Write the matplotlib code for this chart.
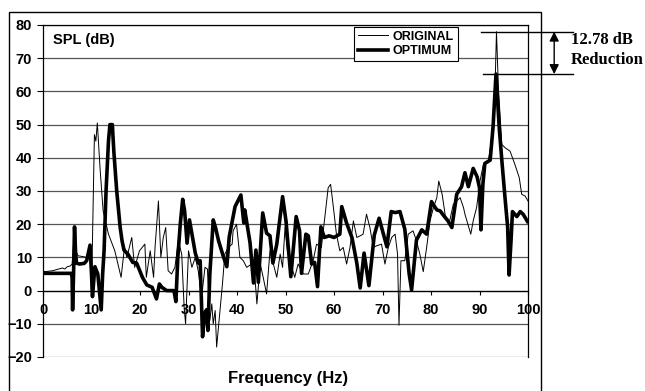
import numpy as np
import matplotlib
matplotlib.use('Agg')
import matplotlib.pyplot as plt
from matplotlib.patches import Rectangle

plt.rcParams['font.family'] = ['Liberation Sans', 'DejaVu Sans']

# ---------- data ----------
freq_orig = [0, 1, 2, 3, 4, 4.5, 5, 5.6, 6.0, 6.3, 6.7, 7.2, 8, 9, 9.7, 10.0, 10.6, 10.9, 11.2,
             11.8, 12.2, 12.4, 13.5, 14.8, 16.1, 16.8, 17.3, 18.3, 18.9, 19.9, 21.0, 21.3, 22.1,
             22.8, 23.1, 23.8, 24.3, 24.8, 25.3, 25.8, 26.5, 27.2, 27.9, 28.6, 29.1, 29.4, 30.0,
             30.7, 31.4, 32.0, 32.7, 33.4, 33.9, 34.4, 34.8, 35.1, 35.5, 35.8, 36.5, 37.0, 37.5,
             38.2, 39.0, 39.2, 39.9, 40.6, 41.3, 42.0, 43.0, 43.4, 43.7, 44.1, 44.8, 45.4, 46.1,
             46.8, 47.5, 48.2, 48.9, 49.4, 49.9, 50.4, 51.3, 51.9, 52.6, 53.7, 54.7, 55.7, 56.4,
             57.4, 58.1, 58.8, 59.3, 59.8, 60.5, 61.2, 61.9, 62.6, 63.3, 64.0, 64.7, 65.4, 66.0,
             66.7, 67.4, 68.1, 68.8, 69.8, 70.5, 71.2, 71.9, 72.6, 73.1, 73.4, 73.8, 74.6, 75.3,
             76.3, 77.0, 77.7, 78.4, 79.1, 79.8, 80.5, 81.2, 81.6, 82.3, 83.0, 83.7, 84.6, 85.3,
             86.0, 86.7, 87.0, 88.2, 88.7, 89.4, 90.1, 90.8, 91.8, 92.7, 93.2, 93.5, 93.9, 94.6,
             95.3, 96.3, 97.3, 98.2, 98.7, 99.4, 100]
spl_orig = [5.7, 5.8, 6.0, 6.4, 6.8, 6.5, 7.2, 7.4, 8, 14, 12, 10.5, 10.3, 10, 10.5, -1, 47, 45, 50.5,
            36, 28, 24, 17, 12, 4, 13, 10, 16, 7, 12, 14, 4, 12,
            4, 13, 27, 10, 16, 19, 6, 5, 7, 15, 11, -5, -10, 12,
            7, 10, 6, -2, 7, 6.5, -9, -4, -10, -6, -17, -6, 2, 11,
            13, 14, 18, 20, 10, 9, 7, 8, 7, 4, -4, 8, 4, -1,
            12, 8, 4, 11, 7, 19, 12, 7, 4, 8, 5, 5, 9, 14,
            13, 22, 31, 32, 26, 17, 12, 13, 8, 13, 21, 16, 16.5, 17,
            23, 19, 13, 13.5, 14, 8, 13, 16, 17, 11, -10.4, 9, 9, 17,
            18, 15, 11, 5.7, 13, 21, 25, 28, 33, 29, 22, 20, 26, 27,
            28, 25, 23, 17, 21, 25, 33, 38, 39, 47, 61, 78.0, 61, 44,
            43, 42, 38, 34, 29, 28.5, 27]

freq_opt = [0, 5.8, 6.0, 6.1, 6.3, 6.5, 6.7, 6.9, 7.5, 8.5, 9.0, 9.7, 10.0, 10.2, 10.7, 11.3, 12.0,
            12.3, 12.6, 13.0, 13.5, 13.8, 14.3, 14.6, 15.2, 15.9, 16.3, 16.7, 17.5, 18.5, 19.3,
            20.5, 21.4, 22.5, 23.4, 24.0, 24.5, 25.5, 26.5, 27.0, 27.4, 27.8, 28.3, 28.8, 29.2,
            29.7, 30.2, 30.6, 31.4, 32.0, 32.4, 32.9, 33.3, 33.7, 34.0, 34.4, 35.1, 35.6, 36.2,
            37.2, 37.9, 38.4, 39.6, 40.8, 41.4, 41.6, 42.7, 43.4, 43.9, 44.4, 45.3, 46.1, 46.8,
            47.4, 48.2, 49.4, 50.1, 51.1, 52.2, 52.9, 53.3, 54.2, 54.7, 55.4, 56.0, 56.6, 57.3,
            58.0, 59.0, 60.0, 61.2, 61.6, 62.6, 63.7, 64.7, 65.4, 66.2, 67.2, 68.3, 69.3, 70.0,
            70.9, 71.8, 72.6, 73.6, 74.6, 75.5, 76.0, 77.0, 78.1, 79.1, 80.1, 81.2, 81.9, 82.5,
            83.5, 84.3, 85.3, 86.3, 87.0, 87.7, 88.7, 89.5, 90.0, 90.3, 90.7, 91.1, 92.2, 92.8,
            93.4, 94.1, 94.6, 95.3, 95.8, 96.1, 96.5, 96.8, 97.7, 98.4, 99.0, 99.9]
spl_opt = [5.2, 5.2, 4, -5.8, 5, 19.2, 12, 8.3, 8, 8.2, 9, 13.7, 5, -1.8, 7.2, 5, -5.8,
           5, 12.2, 30, 45, 50, 50, 42, 30, 19.2, 15, 12.2, 11, 8.5, 8.3,
           4, 1.7, 1, -2.5, 2, 1, 0, 0, 0, -3.3, 10, 20, 27.5, 24,
           14.3, 21.3, 18, 11.3, 8.3, 9, -13.9, -7, -5.8, -12, 5, 21.3, 18.8, 15,
           10.2, 7.2, 16.2, 25.3, 28.8, 20.4, 24.3, 14.3, 2.3, 12.2, 2.5, 23.4, 17.3, 16.5,
           8.3, 14, 28.3, 21, 4.2, 22.3, 18, 5.2, 17, 16.5, 8, 8.5, 1.2, 19.2,
           16, 16.5, 16, 17, 25.3, 20.3, 16, 8.3, 0.8, 11.3, 1.5, 16.7, 21.8, 18,
           13.2, 23.8, 23.5, 23.8, 18.5, 5, 0.2, 15.2, 18.3, 17, 26.8, 24.3, 24, 22.8,
           21, 19, 29, 31.3, 35.5, 31.3, 36.8, 34.3, 31, 18.3, 32, 38.3, 39.3, 49.4,
           65.22, 48.4, 39.3, 27.3, 19.2, 4.7, 15, 23.8, 22.3, 23.8, 23, 20.8]

y_ticks = [-20, -10, 0, 10, 20, 30, 40, 50, 60, 70, 80]
x_ticks = [0, 10, 20, 30, 40, 50, 60, 70, 80, 90, 100]

fig = plt.figure(figsize=(6.45, 3.91), dpi=100)
ax = fig.add_axes([43 / 645, 1 - 357 / 391, 485 / 645, 332 / 391])

# horizontal gridlines
for yv in y_ticks:
    ax.axhline(yv, color='#555555', lw=0.9, zorder=1)

ax.plot(freq_orig, spl_orig, color='black', lw=0.7, label='ORIGINAL', zorder=3)
ax.plot(freq_opt, spl_opt, color='black', lw=2.6, label='OPTIMUM', zorder=4)

ax.set_xlim(0, 100)
ax.set_ylim(-20, 80)
ax.set_xticks(x_ticks)
ax.set_yticks(y_ticks)
ax.spines['bottom'].set_position(('data', 0))
for s in ['left', 'right', 'top', 'bottom']:
    ax.spines[s].set_linewidth(0.9)
ax.tick_params(axis='x', direction='out', length=3, width=0.8, pad=6)
ax.tick_params(axis='y', direction='out', length=4, width=0.8, pad=4)
for lab in ax.get_xticklabels() + ax.get_yticklabels():
    lab.set_fontweight('bold')
    lab.set_fontsize(10.5)

ax.text(2.0, 75.5, 'SPL (dB)', fontsize=10.5, fontweight='bold', va='center', ha='left')

leg = ax.legend(loc='upper left', bbox_to_anchor=((354 - 43) / 485, 0.994), borderaxespad=0,
                fancybox=False, edgecolor='black', framealpha=1, handlelength=2.4,
                prop={'weight': 'bold', 'size': 9}, borderpad=0.3, labelspacing=0.2,
                handletextpad=0.4)
leg.get_frame().set_linewidth(0.8)

# reduction annotation
peak_orig = max(spl_orig)
peak_opt = max(spl_opt)
ax.plot([90.3, 109.3], [peak_orig, peak_orig], color='black', lw=1, clip_on=False)
ax.plot([90.7, 109.3], [peak_opt, peak_opt], color='black', lw=1, clip_on=False)
ax.annotate('', xy=(105.4, peak_orig), xytext=(105.4, peak_opt),
            arrowprops=dict(arrowstyle='<|-|>', color='black', lw=1, mutation_scale=14,
                            shrinkA=0, shrinkB=0), annotation_clip=False)
ax.text(108.9, 75.5, '12.78 dB', family='Liberation Serif', fontweight='bold', fontsize=12,
        va='center', ha='left', clip_on=False)
ax.text(108.9, 69.4, 'Reduction', family='Liberation Serif', fontweight='bold', fontsize=12,
        va='center', ha='left', clip_on=False)

fig.text(288 / 645, 1 - 379 / 391, 'Frequency (Hz)', fontsize=12, fontweight='bold',
         ha='center', va='center')

# outer chart border
fig.patches.append(Rectangle((9 / 645, -0.1), (541 - 9) / 645, 1.1 - 12 / 391,
                             transform=fig.transFigure, fill=False, lw=1, color='black'))

fig.savefig('out.png', dpi=100)
